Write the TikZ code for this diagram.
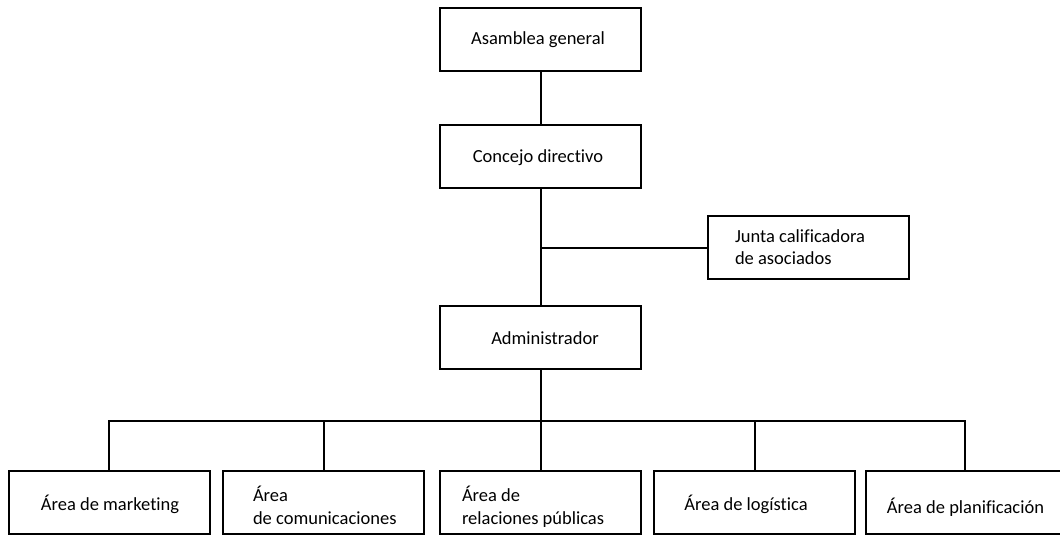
\documentclass[tikz,border=0pt]{standalone}
\usepackage{fontspec}
\setmainfont{Carlito}[Ligatures=NoCommon]
\begin{document}
\begin{tikzpicture}[x=0.75pt,y=-0.75pt,
  box/.style={draw=black,line width=1.5pt,minimum width=150.75pt,minimum height=47.25pt,inner sep=0pt,outer sep=0pt},
  lbl/.style={inner sep=0pt,outer sep=0pt,font=\fontsize{13.875}{17}\selectfont},
  link/.style={line width=1.5pt,line cap=rect}]
\useasboundingbox (0,0) rectangle (1060,535);

% boxes
\node[box] (asm) at (540.5,40) {};
\node[box] (con) at (540.5,156) {};
\node[box] (jun) at (808.5,247.5) {};
\node[box] (adm) at (540.5,337.5) {};
\node[box] (b1) at (109,502.5) {};
\node[box] (b2) at (323.5,502.5) {};
\node[box] (b3) at (540.5,502.5) {};
\node[box] (b4) at (754.5,502.5) {};
\node[box,minimum width=148.5pt] (b5) at (965,502.5) {};

% labels
\node[lbl,anchor=base] (asm-t) at (538,45) {Asamblea general};
\node[lbl,anchor=base] (con-t) at (538,162) {Concejo directivo};
\node[lbl,anchor=base west] (jun-t1) at (735,242) {Junta calificadora};
\node[lbl,anchor=base west] (jun-t2) at (735,264) {de asociados};
\node[lbl,anchor=base] (adm-t) at (545,344) {Administrador};
\node[lbl,anchor=base] (b1-t) at (110,510) {Área de marketing};
\node[lbl,anchor=base west] (b2-t1) at (253,501) {Área};
\node[lbl,anchor=base west] (b2-t2) at (253,524) {de comunicaciones};
\node[lbl,anchor=base west] (b3-t1) at (462,501) {Área de};
\node[lbl,anchor=base west] (b3-t2) at (462,524) {relaciones públicas};
\node[lbl,anchor=base] (b4-t) at (746,510) {Área de logística};
\node[lbl,anchor=base] (b5-t) at (965.5,513) {Área de planificación};

% connectors
\coordinate (bus) at (540.5,421);
\draw[link] (asm.south) -- (con.north);
\draw[link] (con.south) -- (adm.north);
\draw[link] (con.south |- jun.west) -- (jun.west);
\draw[link] (adm.south) -- (bus);
\draw[link] (b1.north) |- (bus -| b5.north) -- (b5.north);
\draw[link] (b2.north) -- (b2.north |- bus);
\draw[link] (b3.north) -- (b3.north |- bus);
\draw[link] (b4.north) -- (b4.north |- bus);
\end{tikzpicture}
\end{document}
